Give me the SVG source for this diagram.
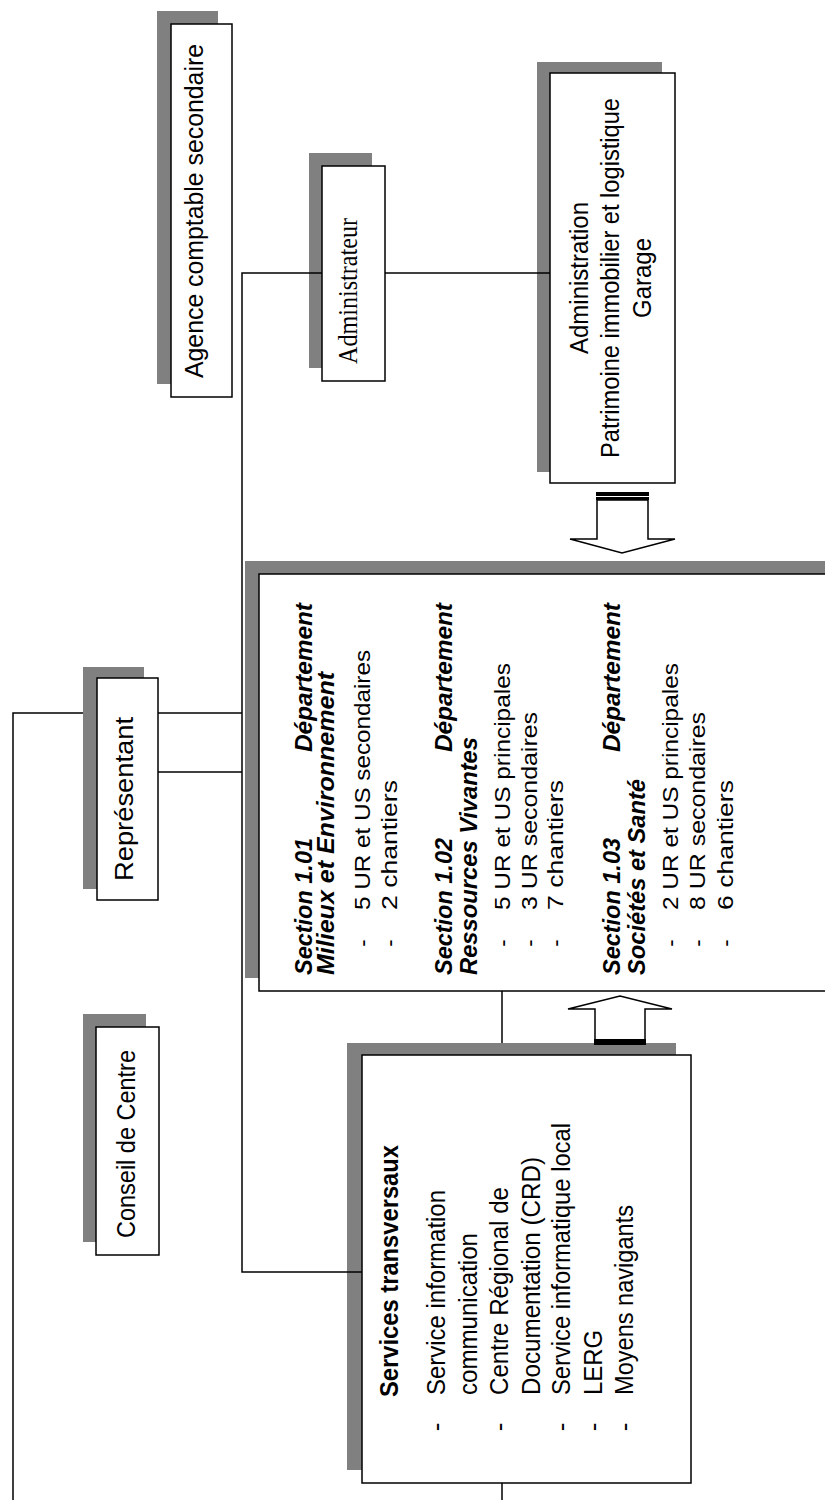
<svg xmlns="http://www.w3.org/2000/svg" width="825" height="1500" viewBox="0 0 825 1500">
<style>
.sh{fill:#808080}
.bx{fill:#fff;stroke:#000;stroke-width:1.5}
.t{font-family:"Liberation Sans",Arial,sans-serif;font-size:26px;fill:#000}
.s{font-family:"Liberation Serif","Times New Roman",serif;font-size:28px;fill:#000}
.l{font-family:"Liberation Sans",Arial,sans-serif;font-size:22px;fill:#000}
.h{font-family:"Liberation Sans",Arial,sans-serif;font-size:24px;font-weight:bold;font-style:italic;fill:#000}
.b{font-weight:bold}
.ln{stroke:#000;stroke-width:1.5;fill:none}
.ar{fill:#fff;stroke:#000;stroke-width:1.5}
</style>
<rect width="825" height="1500" fill="#fff"/>
<g id="agence">
<rect class="sh" x="157" y="11" width="61" height="373"/>
<rect class="bx" x="171" y="24" width="61" height="373"/>
<text class="t" font-size="25" text-anchor="middle" transform="translate(203,211) rotate(-90)" textLength="334" lengthAdjust="spacingAndGlyphs">Agence comptable secondaire</text>
</g>
<g id="administrateur">
<rect class="sh" x="309" y="153" width="63" height="215"/>
<rect class="bx" x="322" y="166" width="63" height="215"/>
<text class="s" transform="translate(357,364) rotate(-90)" textLength="146" lengthAdjust="spacingAndGlyphs">Administrateur</text>
</g>
<g id="administration">
<rect class="sh" x="537" y="62" width="125" height="410"/>
<rect class="bx" x="550" y="73" width="125" height="410"/>
<text class="t" font-size="28" text-anchor="middle" transform="translate(588,278) rotate(-90)" textLength="152" lengthAdjust="spacingAndGlyphs">Administration</text>
<text class="t" font-size="28" text-anchor="middle" transform="translate(619,278) rotate(-90)" textLength="360" lengthAdjust="spacingAndGlyphs">Patrimoine immobilier et logistique</text>
<text class="t" font-size="28" text-anchor="middle" transform="translate(651,278) rotate(-90)" textLength="80" lengthAdjust="spacingAndGlyphs">Garage</text>
</g>
<g id="representant">
<rect class="sh" x="83" y="667" width="61" height="222"/>
<rect class="bx" x="97" y="678" width="61" height="222"/>
<text class="t" font-size="28" transform="translate(133,881) rotate(-90)" textLength="164" lengthAdjust="spacingAndGlyphs">Représentant</text>
</g>
<g id="conseil">
<rect class="sh" x="83" y="1014" width="63" height="228"/>
<rect class="bx" x="96" y="1027" width="63" height="228"/>
<text class="t" font-size="28" transform="translate(135,1238) rotate(-90)" textLength="188" lengthAdjust="spacingAndGlyphs">Conseil de Centre</text>
</g>
<g id="departements">
<rect class="sh" x="245" y="561" width="600" height="417"/>
<rect class="bx" x="259" y="574" width="600" height="417"/>
<text class="h" transform="translate(312,975) rotate(-90)" textLength="137" lengthAdjust="spacingAndGlyphs">Section 1.01</text>
<text class="h" transform="translate(312,752) rotate(-90)" textLength="149" lengthAdjust="spacingAndGlyphs">Département</text>
<text class="h" transform="translate(334,975) rotate(-90)" textLength="303" lengthAdjust="spacingAndGlyphs">Milieux et Environnement</text>
<text class="l" text-anchor="middle" transform="translate(370,943) rotate(-90)">-</text>
<text class="l" transform="translate(370,910) rotate(-90)" textLength="260" lengthAdjust="spacingAndGlyphs">5 UR et US secondaires</text>
<text class="l" text-anchor="middle" transform="translate(397,943) rotate(-90)">-</text>
<text class="l" transform="translate(397,910) rotate(-90)" textLength="130" lengthAdjust="spacingAndGlyphs">2 chantiers</text>
<text class="h" transform="translate(452,975) rotate(-90)" textLength="137" lengthAdjust="spacingAndGlyphs">Section 1.02</text>
<text class="h" transform="translate(452,752) rotate(-90)" textLength="149" lengthAdjust="spacingAndGlyphs">Département</text>
<text class="h" transform="translate(477,975) rotate(-90)" textLength="238" lengthAdjust="spacingAndGlyphs">Ressources Vivantes</text>
<text class="l" text-anchor="middle" transform="translate(510,943) rotate(-90)">-</text>
<text class="l" transform="translate(510,910) rotate(-90)" textLength="247" lengthAdjust="spacingAndGlyphs">5 UR et US principales</text>
<text class="l" text-anchor="middle" transform="translate(537,943) rotate(-90)">-</text>
<text class="l" transform="translate(537,910) rotate(-90)" textLength="198" lengthAdjust="spacingAndGlyphs">3 UR secondaires</text>
<text class="l" text-anchor="middle" transform="translate(563,943) rotate(-90)">-</text>
<text class="l" transform="translate(563,910) rotate(-90)" textLength="130" lengthAdjust="spacingAndGlyphs">7 chantiers</text>
<text class="h" transform="translate(620,975) rotate(-90)" textLength="137" lengthAdjust="spacingAndGlyphs">Section 1.03</text>
<text class="h" transform="translate(620,752) rotate(-90)" textLength="149" lengthAdjust="spacingAndGlyphs">Département</text>
<text class="h" transform="translate(645,975) rotate(-90)" textLength="196" lengthAdjust="spacingAndGlyphs">Sociétés et Santé</text>
<text class="l" text-anchor="middle" transform="translate(678,943) rotate(-90)">-</text>
<text class="l" transform="translate(678,910) rotate(-90)" textLength="247" lengthAdjust="spacingAndGlyphs">2 UR et US principales</text>
<text class="l" text-anchor="middle" transform="translate(705,943) rotate(-90)">-</text>
<text class="l" transform="translate(705,910) rotate(-90)" textLength="198" lengthAdjust="spacingAndGlyphs">8 UR secondaires</text>
<text class="l" text-anchor="middle" transform="translate(733,943) rotate(-90)">-</text>
<text class="l" transform="translate(733,910) rotate(-90)" textLength="130" lengthAdjust="spacingAndGlyphs">6 chantiers</text>
</g>
<g id="services">
<rect class="sh" x="347" y="1043" width="329" height="427"/>
<rect class="bx" x="362" y="1055" width="329" height="428"/>
<text class="t b" transform="translate(398,1397) rotate(-90)" textLength="252" lengthAdjust="spacingAndGlyphs">Services transversaux</text>
<text class="t" text-anchor="middle" transform="translate(445,1427) rotate(-90)">-</text>
<text class="t" transform="translate(445,1395) rotate(-90)" textLength="205" lengthAdjust="spacingAndGlyphs">Service information</text>
<text class="t" transform="translate(477,1395) rotate(-90)" textLength="162" lengthAdjust="spacingAndGlyphs">communication</text>
<text class="t" text-anchor="middle" transform="translate(508,1427) rotate(-90)">-</text>
<text class="t" transform="translate(508,1395) rotate(-90)" textLength="208" lengthAdjust="spacingAndGlyphs">Centre Régional de</text>
<text class="t" transform="translate(540,1395) rotate(-90)" textLength="238" lengthAdjust="spacingAndGlyphs">Documentation (CRD)</text>
<text class="t" text-anchor="middle" transform="translate(570,1427) rotate(-90)">-</text>
<text class="t" transform="translate(570,1395) rotate(-90)" textLength="272" lengthAdjust="spacingAndGlyphs">Service informatique local</text>
<text class="t" text-anchor="middle" transform="translate(602,1427) rotate(-90)">-</text>
<text class="t" transform="translate(602,1395) rotate(-90)" textLength="65" lengthAdjust="spacingAndGlyphs">LERG</text>
<text class="t" text-anchor="middle" transform="translate(633,1427) rotate(-90)">-</text>
<text class="t" transform="translate(633,1395) rotate(-90)" textLength="190" lengthAdjust="spacingAndGlyphs">Moyens navigants</text>
</g>
<g id="connectors">
<path class="ln" d="M322,273 H242 V1272 H362"/>
<path class="ln" d="M385,273 H550"/>
<path class="ln" d="M83,713 H13 V1500"/>
<path class="ln" d="M158,713 H242"/>
<path class="ln" d="M158,772 H242"/>
<path class="ln" d="M502,991 V1043"/>
<path class="ln" d="M502,1483 V1500"/>
<polygon class="ar" points="597,500 648,500 648,539 675,539 622,553 570,539 597,539"/>
<rect x="596" y="492" width="53" height="4"/>
<rect x="596" y="497" width="53" height="3"/>
<polygon class="ar" points="595,1040 645,1040 645,1009 672,1009 620,996 568,1009 595,1009"/>
<rect x="594" y="1039" width="52" height="6"/>
</g>
</svg>
